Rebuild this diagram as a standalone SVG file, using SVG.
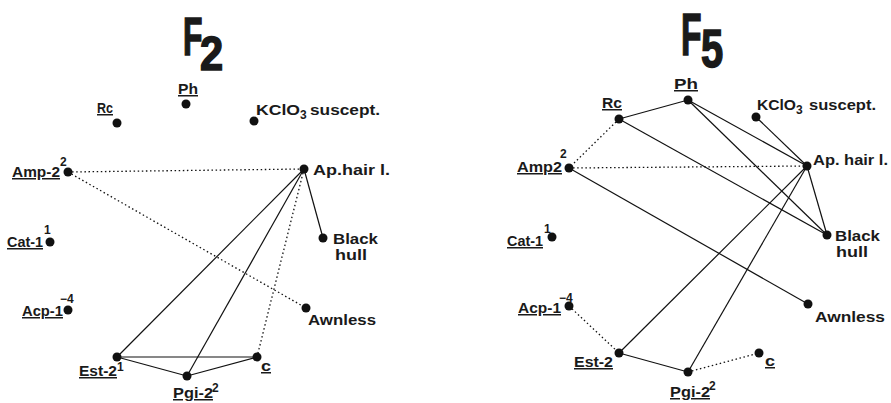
<svg xmlns="http://www.w3.org/2000/svg" width="891" height="403" viewBox="0 0 891 403">
<style>
text{font-family:"Liberation Sans",Arial,sans-serif;font-weight:bold;fill:#1a1a1a}
.l{font-size:15px}
.b{font-size:14px}
.u{text-decoration:underline}
.s{font-size:12px}
.t{font-family:"Liberation Sans",Arial,sans-serif;font-weight:bold;stroke:#1a1a1a;stroke-width:1.6}
.d{fill:#111}
.e{stroke:#111;stroke-width:1.2;fill:none}
.o{stroke:#111;stroke-width:1.3;fill:none;stroke-dasharray:1.5 2.6}
</style>
<rect width="891" height="403" fill="#fff"/>
<!-- Titles -->
<g id="title-f2">
<text class="t" font-size="53" transform="translate(183,55) scale(0.6,1)">F</text>
<text class="t" font-size="49" transform="translate(200,70) scale(0.85,1)">2</text>
</g>
<g id="title-f5">
<text class="t" font-size="60" transform="translate(681,55) scale(0.56,1)">F</text>
<text class="t" font-size="54" transform="translate(701,67) scale(0.74,1)">5</text>
</g>
<!-- Connectors F2 -->
<g id="connectors-f2">
<line class="o" x1="68" y1="172" x2="304" y2="169"/>
<line class="o" x1="68" y1="172" x2="306" y2="308"/>
<line class="o" x1="304" y1="169" x2="257" y2="357"/>
<line class="e" x1="304" y1="169" x2="117" y2="357"/>
<line class="e" x1="304" y1="169" x2="187" y2="376"/>
<line class="e" x1="304" y1="169" x2="323" y2="238"/>
<line class="e" x1="117" y1="357" x2="257" y2="357"/>
<line class="e" x1="117" y1="357" x2="187" y2="376"/>
<line class="e" x1="187" y1="376" x2="257" y2="357"/>
</g>
<!-- Connectors F5 -->
<g id="connectors-f5">
<line class="e" x1="619" y1="119" x2="688" y2="100"/>
<line class="e" x1="619" y1="119" x2="827" y2="235"/>
<line class="e" x1="688" y1="100" x2="807" y2="166"/>
<line class="e" x1="688" y1="100" x2="827" y2="235"/>
<line class="e" x1="756" y1="117" x2="807" y2="166"/>
<line class="e" x1="569" y1="168" x2="808" y2="304"/>
<line class="e" x1="807" y1="166" x2="827" y2="235"/>
<line class="e" x1="807" y1="166" x2="619" y2="353"/>
<line class="e" x1="807" y1="166" x2="688" y2="372"/>
<line class="e" x1="619" y1="353" x2="688" y2="372"/>
<line class="o" x1="619" y1="119" x2="569" y2="168"/>
<line class="o" x1="569" y1="168" x2="807" y2="166"/>
<line class="o" x1="569" y1="306" x2="619" y2="353"/>
<line class="o" x1="688" y1="372" x2="759" y2="353"/>
</g>
<!-- Nodes F2 -->
<g id="f2-ph"><circle class="d" cx="186" cy="104" r="4.5"/><text class="l u" x="178" y="94" textLength="20" lengthAdjust="spacingAndGlyphs">Ph</text></g>
<g id="f2-rc"><circle class="d" cx="117" cy="123" r="4.5"/><text class="l u" x="97" y="113" textLength="16" lengthAdjust="spacingAndGlyphs">Rc</text></g>
<g id="f2-kclo3"><circle class="d" cx="254" cy="121" r="4.5"/><text class="l" x="256" y="115" textLength="44" lengthAdjust="spacingAndGlyphs">KClO</text><text class="s" x="300" y="119">3</text><text class="l" x="310" y="115" textLength="70" lengthAdjust="spacingAndGlyphs">suscept.</text></g>
<g id="f2-amp2"><circle class="d" cx="68" cy="172" r="4.5"/><text class="l u" x="12" y="177" textLength="48" lengthAdjust="spacingAndGlyphs">Amp-2</text><text class="s" x="60" y="166">2</text></g>
<g id="f2-aphair"><circle class="d" cx="304" cy="169" r="4.5"/><text class="l" x="313" y="175" textLength="77" lengthAdjust="spacingAndGlyphs">Ap.hair  l.</text></g>
<g id="f2-cat1"><circle class="d" cx="50" cy="242" r="4.5"/><text class="l u" x="7" y="247" textLength="36" lengthAdjust="spacingAndGlyphs">Cat-1</text><text class="s" x="44" y="234">1</text></g>
<g id="f2-black"><circle class="d" cx="323" cy="238" r="4.5"/><text class="b" x="333" y="244" textLength="45" lengthAdjust="spacingAndGlyphs">Black</text><text class="b" x="335" y="260" textLength="32" lengthAdjust="spacingAndGlyphs">hull</text></g>
<g id="f2-acp1"><circle class="d" cx="68" cy="310" r="4.5"/><text class="l u" x="22" y="316" textLength="41" lengthAdjust="spacingAndGlyphs">Acp-1</text><text class="s" x="60" y="303">−4</text></g>
<g id="f2-awnless"><circle class="d" cx="306" cy="308" r="4.5"/><text class="l" x="308" y="325" textLength="68" lengthAdjust="spacingAndGlyphs">Awnless</text></g>
<g id="f2-est2"><circle class="d" cx="117" cy="357" r="4.5"/><text class="l u" x="79" y="376" textLength="38" lengthAdjust="spacingAndGlyphs">Est-2</text><text class="s" x="117" y="371">1</text></g>
<g id="f2-pgi2"><circle class="d" cx="187" cy="376" r="4.5"/><text class="l u" x="173" y="398" textLength="40" lengthAdjust="spacingAndGlyphs">Pgi-2</text><text class="s" x="212" y="392">2</text></g>
<g id="f2-c"><circle class="d" cx="257" cy="357" r="4.5"/><text class="l u" x="261" y="371" textLength="10" lengthAdjust="spacingAndGlyphs">c</text></g>
<!-- Nodes F5 -->
<g id="f5-ph"><circle class="d" cx="688" cy="100" r="4.5"/><text class="l u" x="674" y="89" textLength="24" lengthAdjust="spacingAndGlyphs">Ph</text></g>
<g id="f5-rc"><circle class="d" cx="619" cy="119" r="4.5"/><text class="l u" x="602" y="108" textLength="20" lengthAdjust="spacingAndGlyphs">Rc</text></g>
<g id="f5-kclo3"><circle class="d" cx="756" cy="117" r="4.5"/><text class="l" x="757" y="110" textLength="39" lengthAdjust="spacingAndGlyphs">KClO</text><text class="s" x="796" y="114">3</text><text class="l" x="809" y="110" textLength="67" lengthAdjust="spacingAndGlyphs">suscept.</text></g>
<g id="f5-amp2"><circle class="d" cx="569" cy="168" r="4.5"/><text class="l u" x="517" y="172" textLength="45" lengthAdjust="spacingAndGlyphs">Amp2</text><text class="s" x="560" y="158">2</text></g>
<g id="f5-aphair"><circle class="d" cx="807" cy="166" r="4.5"/><text class="l" x="813" y="165" textLength="75" lengthAdjust="spacingAndGlyphs">Ap. hair  l.</text></g>
<g id="f5-cat1"><circle class="d" cx="552" cy="237" r="4.5"/><text class="l u" x="507" y="246" textLength="36" lengthAdjust="spacingAndGlyphs">Cat-1</text><text class="s" x="544" y="233">1</text></g>
<g id="f5-black"><circle class="d" cx="827" cy="235" r="4.5"/><text class="b" x="835" y="241" textLength="45" lengthAdjust="spacingAndGlyphs">Black</text><text class="b" x="836" y="257" textLength="32" lengthAdjust="spacingAndGlyphs">hull</text></g>
<g id="f5-acp1"><circle class="d" cx="569" cy="306" r="4.5"/><text class="l u" x="518" y="313" textLength="43" lengthAdjust="spacingAndGlyphs">Acp-1</text><text class="s" x="559" y="302">−4</text></g>
<g id="f5-awnless"><circle class="d" cx="808" cy="304" r="4.5"/><text class="l" x="815" y="322" textLength="70" lengthAdjust="spacingAndGlyphs">Awnless</text></g>
<g id="f5-est2"><circle class="d" cx="619" cy="353" r="4.5"/><text class="l u" x="574" y="367" textLength="39" lengthAdjust="spacingAndGlyphs">Est-2</text></g>
<g id="f5-pgi2"><circle class="d" cx="688" cy="372" r="4.5"/><text class="l u" x="670" y="397" textLength="40" lengthAdjust="spacingAndGlyphs">Pgi-2</text><text class="s" x="709" y="390">2</text></g>
<g id="f5-c"><circle class="d" cx="759" cy="353" r="4.5"/><text class="l u" x="765" y="366" textLength="10" lengthAdjust="spacingAndGlyphs">c</text></g>
</svg>
